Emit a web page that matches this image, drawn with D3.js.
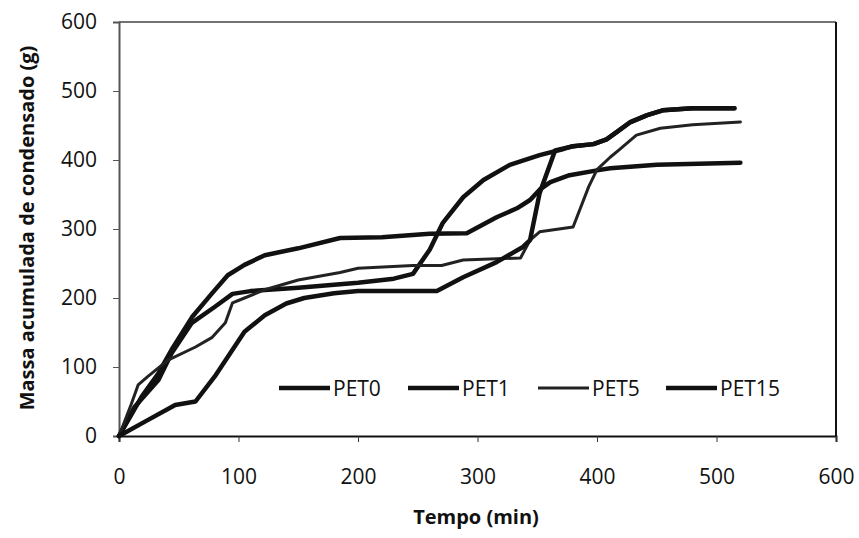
<html>
<script src='https://d3js.org/d3.v7.min.js'></script>
<style>
  body { margin: 0; background: white; }
  text { font-family: 'Open Sans', sans-serif; fill: #111; }
</style>
<body onload='init()'>
<svg width=859 height=538></svg>
<script>
// Tempo (min) and massa acumulada (g)
var pet0_t = [0, 10, 19, 33, 44, 61, 78, 91, 105, 122, 150, 185, 220, 260, 291, 316, 333, 344, 352, 361, 377, 400, 411, 450, 520];
var pet0_m = [0, 30, 57, 91, 125, 172, 207, 233, 248, 262, 272, 287, 288, 293, 294, 317, 330, 342, 357, 368, 378, 385, 388, 393, 396];

var pet1_t = [0, 13, 33, 44, 61, 80, 95, 110, 150, 200, 230, 246, 260, 271, 288, 305, 327, 352, 372, 380, 397, 408, 417, 428, 442, 455, 480, 515];
var pet1_m = [0, 42, 81, 120, 164, 187, 206, 210, 215, 222, 228, 235, 270, 309, 346, 371, 393, 407, 416, 420, 423, 430, 441, 455, 465, 472, 475, 475];

var pet5_t = [0, 10, 16, 24, 41, 64, 78, 89, 95, 105, 122, 150, 185, 200, 246, 270, 288, 336, 344, 352, 380, 393, 400, 411, 418, 433, 453, 480, 520];
var pet5_m = [0, 45, 74, 86, 110, 129, 143, 164, 193, 200, 212, 226, 237, 243, 247, 247, 255, 258, 284, 296, 303, 361, 386, 404, 414, 436, 446, 451, 455];

var pet15_t = [0, 24, 47, 64, 80, 105, 122, 140, 155, 180, 200, 266, 288, 316, 338, 344, 352, 365, 380, 397, 408, 417, 428, 442, 455, 480, 515];
var pet15_m = [0, 23, 45, 50, 86, 151, 175, 192, 200, 207, 210, 210, 230, 252, 274, 284, 352, 414, 420, 423, 430, 441, 455, 465, 472, 475, 475];

var names = ['PET0', 'PET1', 'PET5', 'PET15'];
var xTicks = [0, 100, 200, 300, 400, 500, 600];
var yTicks = [0, 100, 200, 300, 400, 500, 600];

function init() {
  var margin = {top: 22, right: 23, bottom: 102, left: 119},
      width = 859 - margin.left - margin.right,
      height = 538 - margin.top - margin.bottom;

  var svg = d3.select('svg');
  var g = svg.append('g').attr('transform', 'translate(' + margin.left + ',' + margin.top + ')');

  var x = d3.scaleLinear().domain([0, 600]).range([0, width]);
  var y = d3.scaleLinear().domain([0, 600]).range([height, 0]);

  // frame (top and right)
  g.append('line').attr('x1', 0).attr('x2', width).attr('y1', 0).attr('y2', 0)
    .attr('stroke', '#444').attr('stroke-width', 1.5);
  g.append('line').attr('x1', width).attr('x2', width).attr('y1', 0).attr('y2', height)
    .attr('stroke', '#111').attr('stroke-width', 2);

  var ya = g.append('g')
    .call(d3.axisLeft(y).tickValues(yTicks).tickSize(6).tickPadding(16));
  ya.select('.domain').attr('stroke', '#555').attr('stroke-width', 2);
  ya.selectAll('.tick line').attr('stroke', '#555');

  var xa = g.append('g').attr('transform', 'translate(0,' + height + ')')
    .call(d3.axisBottom(x).tickValues(xTicks).tickSize(6).tickPadding(27));
  xa.select('.domain').attr('stroke', '#111').attr('stroke-width', 2);
  xa.selectAll('.tick line').attr('stroke', '#333');

  svg.selectAll('.tick text').style('font-size', '21px').attr('fill', '#111');

  var series = [
    {name: names[0], t: pet0_t, m: pet0_m, w: 4.5, c: '#111'},
    {name: names[1], t: pet1_t, m: pet1_m, w: 4.5, c: '#111'},
    {name: names[2], t: pet5_t, m: pet5_m, w: 3, c: '#222'},
    {name: names[3], t: pet15_t, m: pet15_m, w: 4.5, c: '#111'}
  ];

  var line = d3.line().x(function(d) { return x(d[0]); }).y(function(d) { return y(d[1]); });

  g.selectAll('path.serie')
    .data(series)
    .enter()
    .append('path')
    .attr('class', 'serie')
    .attr('fill', 'none')
    .attr('stroke', function(d) { return d.c; })
    .attr('stroke-width', function(d) { return d.w; })
    .attr('stroke-linejoin', 'round')
    .attr('stroke-linecap', 'round')
    .attr('d', function(d) { return line(d.t.map(function(v, i) { return [v, d.m[i]]; })); });

  // legend inside the plot
  var legX = [160, 289, 419, 547];
  var leg = g.selectAll('g.leg')
    .data(series)
    .enter()
    .append('g')
    .attr('class', 'leg')
    .attr('transform', function(d, i) { return 'translate(' + legX[i] + ',' + 366 + ')'; });
  leg.append('line').attr('x1', 0).attr('x2', 51).attr('y1', 0).attr('y2', 0)
    .attr('stroke', function(d) { return d.c; })
    .attr('stroke-width', function(d) { return d.w; });
  leg.append('text').attr('x', 54).attr('y', 8)
    .style('font-size', '21px')
    .text(function(d) { return d.name; });

  svg.append('text')
    .attr('x', 476).attr('y', 524)
    .attr('text-anchor', 'middle')
    .style('font-size', '20px').style('font-weight', 'bold')
    .text('Tempo (min)');

  svg.append('text')
    .attr('transform', 'translate(34,228) rotate(-90)')
    .attr('text-anchor', 'middle')
    .style('font-size', '20px').style('font-weight', 'bold')
    .text('Massa acumulada de condensado (g)');
}
</script>
</body>
</html>
